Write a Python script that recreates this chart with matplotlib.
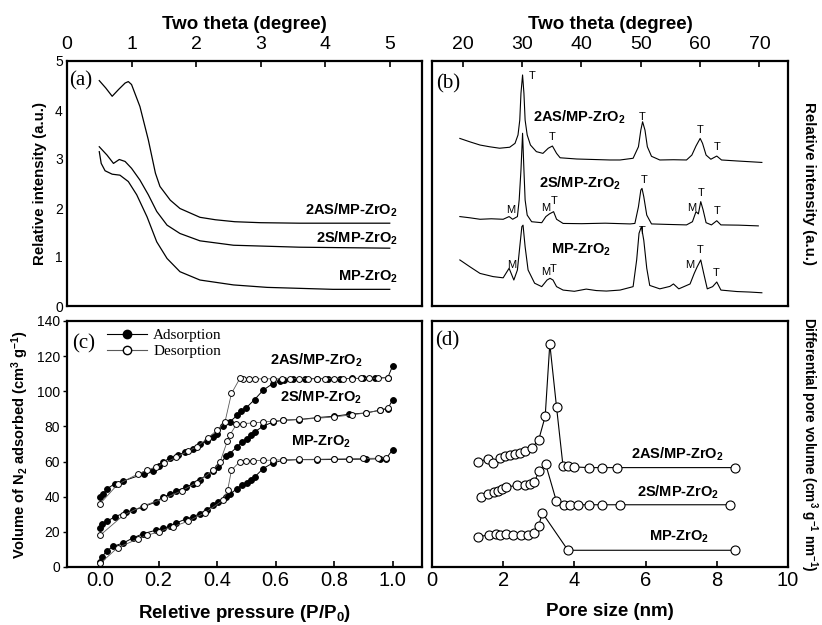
import matplotlib
matplotlib.use("Agg")
import matplotlib.pyplot as plt
from matplotlib.lines import Line2D

plt.rcParams['font.family'] = ['Liberation Sans', 'DejaVu Sans']
plt.rcParams['mathtext.fontset'] = 'custom'
plt.rcParams['mathtext.rm'] = 'Liberation Sans'
plt.rcParams['mathtext.bf'] = 'Liberation Sans:bold'
plt.rcParams['mathtext.it'] = 'Liberation Sans:italic'

SAMPLES = ['2AS/MP-ZrO$_\\mathbf{2}$', '2S/MP-ZrO$_\\mathbf{2}$', 'MP-ZrO$_\\mathbf{2}$']

# (a) low-angle XRD
sa_x_2as = [0.5, 0.6, 0.7, 0.8, 0.9, 0.95, 1.0, 1.13, 1.26, 1.37, 1.44, 1.6, 1.75, 2.06, 2.3, 2.6, 3.0, 3.6, 4.3, 5.0]
sa_y_2as = [4.6, 4.45, 4.28, 4.42, 4.55, 4.58, 4.52, 4.07, 3.39, 2.71, 2.44, 2.16, 1.99, 1.81, 1.76, 1.72, 1.70, 1.69, 1.69, 1.69]
sa_x_2s = [0.5, 0.62, 0.72, 0.81, 0.9, 1.0, 1.13, 1.26, 1.39, 1.55, 1.75, 2.06, 2.58, 3.6, 5.0]
sa_y_2s = [3.25, 3.08, 2.91, 2.99, 2.95, 2.81, 2.57, 2.27, 1.93, 1.65, 1.48, 1.33, 1.24, 1.2, 1.18]
sa_x_mp = [0.5, 0.53, 0.59, 0.7, 0.82, 0.95, 1.08, 1.24, 1.39, 1.55, 1.75, 2.06, 2.58, 3.1, 4.12, 5.0]
sa_y_mp = [3.15, 2.91, 2.76, 2.69, 2.67, 2.54, 2.27, 1.82, 1.31, 0.97, 0.7, 0.53, 0.43, 0.38, 0.34, 0.34]

# (b) wide-angle XRD (arbitrary offset units)
wa_x_2as = [19.5, 21.2, 22.9, 24.5, 26.2, 27.9, 28.8, 29.3, 29.6, 29.8, 30.07, 30.3, 30.5, 30.85, 31.4, 32.4,
            33.5, 34.4, 35.1, 35.8, 36.4, 39.2, 42.0, 44.8, 46.5, 48.7, 49.6, 50.0, 50.3, 50.7, 51.1, 51.8,
            53.2, 55.5, 57.7, 58.6, 59.3, 60.0, 60.4, 61.0, 61.8, 62.8, 63.6, 66.2, 68.3, 70.4]
wa_y_2as = [68.4, 67.0, 65.7, 65.0, 64.4, 64.8, 66.4, 69.8, 75.9, 86.8, 94.3, 86.8, 75.9, 69.8, 65.7, 63.0,
            62.3, 64.4, 65.3, 62.3, 60.5, 60.0, 59.8, 59.6, 59.6, 60.3, 65.0, 71.8, 75.2, 71.8, 65.0, 61.1,
            59.6, 59.7, 59.6, 61.6, 65.3, 68.4, 66.4, 61.6, 59.9, 61.2, 59.6, 59.2, 58.9, 58.6]
wa_x_2s = [19.5, 21.2, 22.9, 24.8, 26.8, 27.8, 28.4, 29.2, 29.5, 29.8, 30.07, 30.3, 30.5, 30.85, 31.6, 33.3,
           34.0, 34.6, 35.3, 35.8, 36.9, 40.0, 44.0, 48.2, 49.0, 49.6, 50.0, 50.2, 50.5, 51.0, 51.8, 54.5,
           57.7, 58.7, 59.3, 59.7, 60.1, 60.5, 61.0, 61.9, 62.8, 63.5, 66.5, 69.8]
wa_y_2s = [36.5, 36.0, 35.4, 35.6, 35.4, 36.5, 35.4, 36.5, 43.3, 55.5, 70.5, 55.5, 43.3, 37.1, 34.4, 34.0,
           36.5, 37.6, 38.5, 35.4, 33.7, 33.6, 33.8, 33.5, 33.7, 40.5, 47.3, 48.0, 44.6, 37.1, 33.5, 33.3,
           33.1, 34.4, 38.5, 37.6, 42.6, 39.2, 34.0, 33.1, 34.8, 33.1, 33.0, 32.7]
wa_x_mp = [19.5, 21.2, 22.9, 25.1, 26.8, 27.8, 28.6, 29.2, 29.6, 29.95, 30.15, 30.5, 31.0, 32.1, 33.3, 34.2,
           34.7, 35.2, 35.8, 36.9, 38.8, 40.8, 42.5, 44.2, 46.5, 48.7, 49.3, 49.7, 50.1, 50.5, 51.0, 51.5,
           53.2, 54.9, 55.5, 56.4, 58.3, 59.0, 59.5, 60.1, 60.6, 61.2, 62.1, 62.8, 63.5, 66.2, 68.3, 70.4]
wa_y_mp = [18.8, 16.0, 13.3, 12.0, 11.5, 15.4, 10.6, 14.7, 24.2, 32.4, 33.0, 24.2, 14.7, 9.3, 7.9, 10.6,
           11.3, 10.6, 7.9, 6.5, 6.0, 6.9, 6.3, 6.1, 6.5, 7.9, 18.8, 29.7, 32.4, 26.8, 15.4, 8.4,
           7.0, 8.0, 9.0, 7.0, 9.0, 13.3, 16.0, 18.8, 13.3, 7.0, 7.9, 9.8, 6.5, 5.9, 5.7, 5.4]
# phase marks: (x, y, text)
wa_marks = [(31.6, 94, 'T'), (50.3, 77, 'T'), (35.1, 69, 'T'), (60.0, 72, 'T'), (62.8, 65, 'T'),
            (50.5, 51.4, 'T'), (28.0, 39, 'M'), (33.9, 40, 'M'), (35.4, 43, 'T'), (58.6, 40, 'M'),
            (60.2, 46, 'T'), (62.9, 38.8, 'T'),
            (50.2, 30.6, 'T'), (28.3, 16.7, 'M'), (33.9, 14, 'M'), (35.3, 15, 'T'), (58.3, 16.7, 'M'),
            (60.0, 22.9, 'T'), (62.7, 13.3, 'T')]

# (c) N2 isotherms
ads_p_2as = [0.0, 0.01, 0.025, 0.05, 0.08, 0.15, 0.18, 0.2, 0.216, 0.24, 0.267, 0.29, 0.318, 0.34, 0.364, 0.386,
             0.398, 0.42, 0.443, 0.468, 0.483, 0.5, 0.528, 0.557, 0.59, 0.614, 0.63, 0.66, 0.7, 0.74, 0.78,
             0.82, 0.86, 0.9, 0.94, 0.983, 1.0]
ads_v_2as = [39.8, 41.4, 44.6, 47.4, 49.0, 53.0, 54.6, 57.5, 59.8, 62.2, 63.6, 65.5, 67.4, 69.8, 71.7, 74.0,
             75.9, 80.1, 82.5, 86.3, 88.8, 90.7, 95.3, 100.6, 104.4, 105.9, 106.6, 107.0, 107.1, 107.2, 107.2,
             107.2, 107.3, 107.4, 107.5, 107.8, 114.6]
des_p_2as = [0.983, 0.95, 0.92, 0.89, 0.86, 0.83, 0.80, 0.77, 0.74, 0.71, 0.68, 0.65, 0.62, 0.59, 0.56, 0.53,
             0.51, 0.49, 0.478, 0.449, 0.427, 0.40, 0.37, 0.33, 0.30, 0.26, 0.22, 0.19, 0.16, 0.13, 0.06, 0.0]
des_v_2as = [107.8, 107.5, 107.4, 107.3, 107.2, 107.2, 107.2, 107.2, 107.2, 107.2, 107.2, 107.2, 107.1, 107.1,
             107.1, 107.0, 106.9, 106.8, 107.4, 98.8, 82.7, 78.0, 73.5, 68.5, 65.8, 62.5, 59.0, 57.0, 55.0,
             53.0, 47.0, 36.0]
ads_p_2s = [0.0, 0.006, 0.023, 0.05, 0.09, 0.114, 0.148, 0.19, 0.216, 0.24, 0.26, 0.295, 0.318, 0.34, 0.364,
            0.386, 0.403, 0.43, 0.443, 0.468, 0.486, 0.502, 0.514, 0.528, 0.557, 0.59, 0.625, 0.68, 0.74, 0.8,
            0.85, 0.91, 0.955, 0.983, 1.0]
ads_v_2s = [22.2, 24.3, 26.0, 28.5, 31.3, 32.3, 34.2, 37.0, 39.8, 41.4, 43.3, 45.5, 47.4, 49.7, 52.2,
            54.6, 56.9, 63.0, 64.5, 68.3, 71.2, 73.1, 75.0, 76.9, 80.1, 82.5, 83.5, 83.9, 85.0, 85.8,
            86.9, 87.7, 89.2, 90.1, 95.3]
des_p_2s = [0.983, 0.955, 0.91, 0.86, 0.8, 0.74, 0.68, 0.625, 0.59, 0.557, 0.523, 0.489, 0.466, 0.443, 0.435,
            0.41, 0.386, 0.33, 0.28, 0.22, 0.15, 0.08, 0.0]
des_v_2s = [90.7, 89.2, 87.7, 86.6, 85.4, 84.6, 84.0, 83.6, 83.0, 82.5, 82.0, 81.6, 81.2, 75.0, 71.7,
            59.8, 55.0, 48.0, 43.5, 39.0, 35.0, 29.5, 18.0]
ads_p_mp = [0.0, 0.006, 0.023, 0.045, 0.08, 0.114, 0.148, 0.19, 0.216, 0.24, 0.26, 0.295, 0.318, 0.34, 0.364,
            0.386, 0.403, 0.43, 0.443, 0.468, 0.486, 0.502, 0.514, 0.528, 0.557, 0.59, 0.625, 0.68, 0.74, 0.8,
            0.85, 0.91, 0.955, 0.977, 1.0]
ads_v_mp = [2.8, 5.7, 9.1, 11.8, 13.7, 16.7, 19.0, 20.9, 22.2, 23.1, 25.0, 27.5, 28.5, 30.4, 32.3,
            35.1, 37.0, 39.8, 41.4, 44.6, 46.9, 47.8, 49.3, 51.2, 56.0, 59.2, 60.7, 61.1, 61.1, 61.2,
            61.3, 61.4, 61.6, 61.7, 66.8]
des_p_mp = [0.977, 0.95, 0.9, 0.85, 0.8, 0.74, 0.68, 0.625, 0.59, 0.557, 0.523, 0.5, 0.478, 0.449, 0.436,
            0.42, 0.36, 0.3, 0.25, 0.2, 0.16, 0.13, 0.06, 0.0]
des_v_mp = [62.0, 61.9, 61.8, 61.6, 61.5, 61.3, 61.2, 61.0, 60.8, 60.7, 60.6, 60.5, 60.0, 55.2, 43.8,
            38.0, 31.0, 26.0, 23.0, 20.0, 18.0, 16.0, 11.0, 2.0]

# (d) pore size distribution (arbitrary offset units)
ps_d_2as = [1.30, 1.57, 1.71, 1.90, 2.04, 2.18, 2.32, 2.46, 2.60, 2.81, 3.0, 3.18, 3.31, 3.50, 3.68, 3.82,
            3.98, 4.40, 4.78, 5.20, 8.50]
ps_v_2as = [42.7, 44.0, 42.4, 44.3, 45.0, 45.4, 45.8, 46.3, 47.0, 48.5, 51.8, 61.2, 90.7, 64.9, 41.2, 40.9,
            40.7, 40.4, 40.4, 40.4, 40.4]
ps_d_2s = [1.39, 1.57, 1.73, 1.85, 1.98, 2.09, 2.39, 2.60, 2.74, 2.88, 3.0, 3.19, 3.49, 3.70, 3.89, 4.10,
           4.40, 4.78, 5.29, 8.38]
ps_v_2s = [28.5, 29.8, 30.4, 30.9, 31.8, 32.5, 33.2, 33.5, 33.9, 34.6, 38.9, 42.0, 27.0, 25.3, 25.3, 25.3,
           25.3, 25.3, 25.3, 25.3]
ps_d_mp = [1.29, 1.59, 1.81, 1.90, 2.09, 2.29, 2.51, 2.70, 2.88, 3.0, 3.10, 3.82, 8.5]
ps_v_mp = [12.2, 13.1, 13.6, 12.9, 13.6, 12.9, 12.9, 13.1, 13.8, 16.8, 22.0, 6.8, 6.8]

fig = plt.figure(figsize=(8.22, 6.25), dpi=100)
ax_a = fig.add_axes([0.0815, 0.5104, 0.4319, 0.392])
ax_b = fig.add_axes([0.5255, 0.5104, 0.4331, 0.392])
ax_c = fig.add_axes([0.0815, 0.0928, 0.4319, 0.3936])
ax_d = fig.add_axes([0.5255, 0.0928, 0.4331, 0.3936])

for ax in (ax_a, ax_b, ax_c, ax_d):
    for s in ax.spines.values():
        s.set_linewidth(1.6)

lab_kw = dict(fontsize=10.5, fontweight='bold')
serif = ['Liberation Serif', 'DejaVu Serif']

# --- (a)
ax_a.plot(sa_x_2as, sa_y_2as, color='k', lw=0.9)
ax_a.plot(sa_x_2s, sa_y_2s, color='k', lw=0.9)
ax_a.plot(sa_x_mp, sa_y_mp, color='k', lw=0.9)
ax_a.set_xlim(0, 5.5)
ax_a.set_ylim(0, 5)
ax_a.xaxis.tick_top()
ax_a.xaxis.set_label_position('top')
ax_a.set_xticks([0, 1, 2, 3, 4, 5])
ax_a.set_yticks([0, 1, 2, 3, 4, 5])
ax_a.tick_params(axis='x', direction='in', length=4, width=1.2, labelsize=14, pad=6)
ax_a.tick_params(axis='y', direction='in', length=0, labelsize=10, pad=3)
ax_a.set_xlabel('Two theta (degree)', fontsize=13.5, fontweight='bold', labelpad=5)
ax_a.set_ylabel('Relative intensity (a.u.)', fontsize=10.8, fontweight='bold', labelpad=6)
ax_a.text(5.13, 1.96, SAMPLES[0], ha='right', va='center', **lab_kw)
ax_a.text(5.13, 1.38, SAMPLES[1], ha='right', va='center', **lab_kw)
ax_a.text(5.13, 0.6, SAMPLES[2], ha='right', va='center', **lab_kw)
ax_a.text(0.005, 0.92, '(a)', transform=ax_a.transAxes, family=serif, fontsize=15, va='center')

# --- (b)
ax_b.plot(wa_x_2as, wa_y_2as, color='k', lw=0.8)
ax_b.plot(wa_x_2s, wa_y_2s, color='k', lw=0.8)
ax_b.plot(wa_x_mp, wa_y_mp, color='k', lw=0.8)
for x, y, t in wa_marks:
    ax_b.text(x, y, t, ha='center', va='center', fontsize=8)
ax_b.set_xlim(14.8, 74.8)
ax_b.set_ylim(0, 100)
ax_b.xaxis.tick_top()
ax_b.xaxis.set_label_position('top')
ax_b.set_xticks([20, 30, 40, 50, 60, 70])
ax_b.set_yticks([])
ax_b.tick_params(axis='x', direction='in', length=4, width=1.2, labelsize=14, pad=6)
ax_b.set_xlabel('Two theta (degree)', fontsize=13.5, fontweight='bold', labelpad=5)
ax_b.text(1.059, 0.5, 'Relative intensity (a.u.)', transform=ax_b.transAxes, rotation=270,
          ha='center', va='center', fontsize=10.8, fontweight='bold')
ax_b.text(39.7, 77, SAMPLES[0], ha='center', va='center', **lab_kw)
ax_b.text(39.7, 50, SAMPLES[1], ha='center', va='center', **lab_kw)
ax_b.text(40.0, 23, SAMPLES[2], ha='center', va='center', **lab_kw)
ax_b.text(0.012, 0.906, '(b)', transform=ax_b.transAxes, family=serif, fontsize=15, va='center')

# --- (c)
mk = dict(marker='o', ms=4.2, mew=0.7)
for p, v in ((ads_p_2as, ads_v_2as), (ads_p_2s, ads_v_2s), (ads_p_mp, ads_v_mp)):
    ax_c.plot(p, v, color='k', lw=0.7, mfc='k', mec='k', **mk)
for p, v in ((des_p_2as, des_v_2as), (des_p_2s, des_v_2s), (des_p_mp, des_v_mp)):
    ax_c.plot(p, v, color='0.35', lw=0.6, mfc='white', mec='k', **mk)
ax_c.set_xlim(-0.113, 1.1)
ax_c.set_ylim(0, 140)
ax_c.set_xticks([0.0, 0.2, 0.4, 0.6, 0.8, 1.0])
ax_c.set_xticklabels(['0.0', '0.2', '0.4', '0.6', '0.8', '1.0'])
ax_c.set_yticks(range(0, 141, 20))
ax_c.tick_params(axis='x', direction='in', length=4, width=1.2, labelsize=14.5, pad=3)
ax_c.tick_params(axis='y', direction='out', length=3, width=1.0, labelsize=10, pad=2)
ax_c.set_xlabel('Reletive pressure (P/P$_\\mathbf{0}$)', fontsize=13.5, fontweight='bold', labelpad=9)
ax_c.set_ylabel('Volume of N$_\\mathbf{2}$ adsorbed (cm$^\\mathbf{3}$ g$^\\mathbf{-1}$)',
                fontsize=10.5, fontweight='bold', labelpad=4)
ax_c.text(0.74, 117.6, SAMPLES[0], ha='center', va='center', **lab_kw)
ax_c.text(0.755, 96.8, SAMPLES[1], ha='center', va='center', **lab_kw)
ax_c.text(0.755, 71, SAMPLES[2], ha='center', va='center', **lab_kw)
ax_c.text(0.015, 0.906, '(c)', transform=ax_c.transAxes, family=serif, fontsize=15, va='center')
handles = [Line2D([], [], color='k', lw=0.8, marker='o', ms=6, mfc='k', mec='k'),
           Line2D([], [], color='0.35', lw=0.8, marker='o', ms=6, mfc='white', mec='k')]
ax_c.legend(handles, ['Adsorption', 'Desorption'], loc='upper left', bbox_to_anchor=(0.075, 1.025),
            frameon=False, handlelength=2.6, handletextpad=0.4, labelspacing=0.15,
            prop=dict(family=serif, size=11))

# --- (d)
for d, v in ((ps_d_2as, ps_v_2as), (ps_d_2s, ps_v_2s), (ps_d_mp, ps_v_mp)):
    ax_d.plot(d, v, color='k', lw=0.8, marker='o', ms=6.5, mfc='white', mec='k', mew=0.8)
ax_d.set_xlim(0, 10)
ax_d.set_ylim(0, 100)
ax_d.set_xticks([0, 2, 4, 6, 8, 10])
ax_d.set_yticks([])
ax_d.tick_params(axis='x', direction='in', length=4, width=1.2, labelsize=14.5, pad=3)
ax_d.set_xlabel('Pore size (nm)', fontsize=13.5, fontweight='bold', labelpad=9)
ax_d.text(1.059, 0.5, 'Differential pore volume (cm$^\\mathbf{3}$ g$^\\mathbf{-1}$ nm$^\\mathbf{-1}$)',
          transform=ax_d.transAxes, rotation=270, ha='center', va='center',
          fontsize=9.8, fontweight='bold')
ax_d.text(6.9, 46, SAMPLES[0], ha='center', va='center', **lab_kw)
ax_d.text(6.9, 30.5, SAMPLES[1], ha='center', va='center', **lab_kw)
ax_d.text(6.95, 12.2, SAMPLES[2], ha='center', va='center', **lab_kw)
ax_d.text(0.01, 0.919, '(d)', transform=ax_d.transAxes, family=serif, fontsize=15, va='center')

fig.savefig('out.png', dpi=100)
